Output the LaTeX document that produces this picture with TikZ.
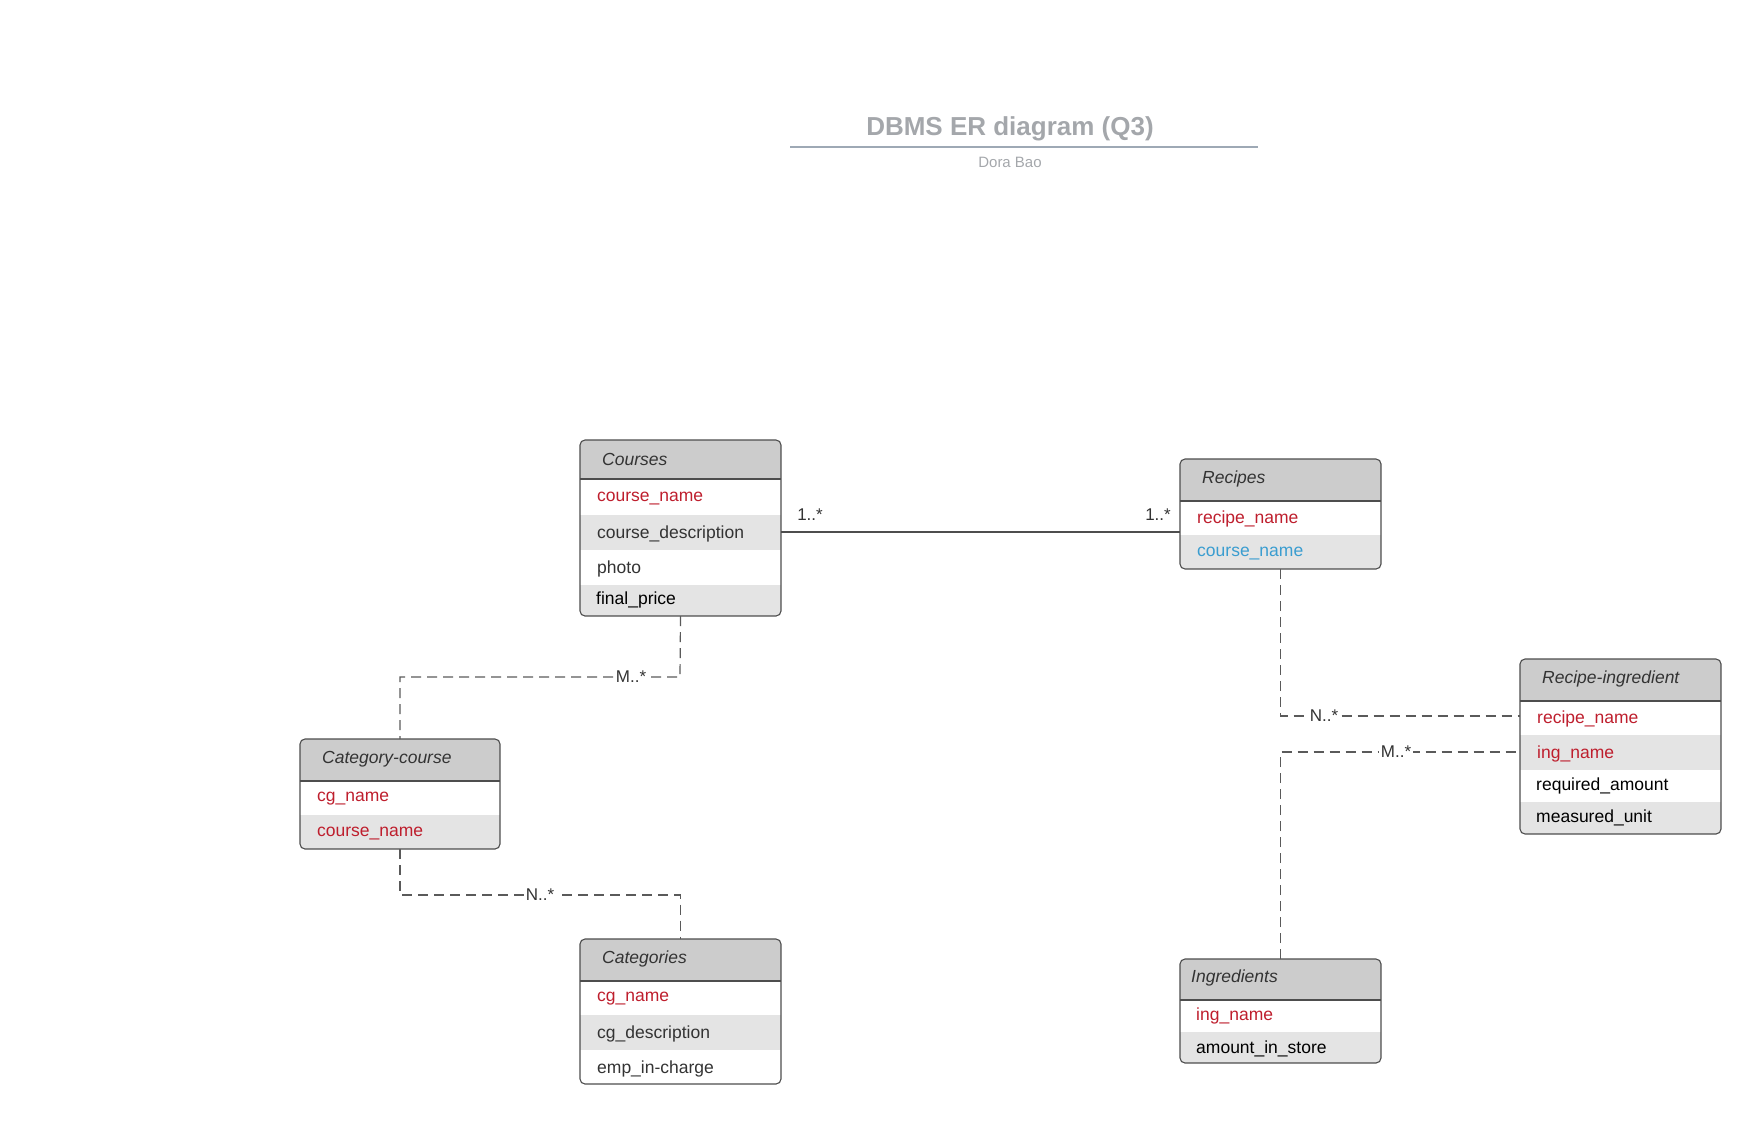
\documentclass[tikz,border=0pt]{standalone}
\usepackage{fontspec}
\setmainfont{Liberation Sans}
\definecolor{hdrfill}{HTML}{CCCCCC}
\definecolor{rowfill}{HTML}{E4E4E4}
\definecolor{bordercol}{HTML}{4D4D4D}
\definecolor{txtdark}{HTML}{333333}
\definecolor{keyred}{HTML}{BE1E2D}
\definecolor{fkblue}{HTML}{3A9DD0}
\definecolor{titlegray}{HTML}{A4A7AB}
\definecolor{titleline}{HTML}{9EA9B5}
\definecolor{linkgray}{HTML}{5A5A5A}
\tikzset{
  ent/.style={draw=bordercol, line width=1.1pt, rounded corners=5pt, anchor=north west, inner sep=0pt, outer sep=0pt},
  sepline/.style={draw=bordercol, line width=1.1pt},
  hdr/.style={font=\itshape\fontsize{17.5}{20}\selectfont, text=txtdark, anchor=west, inner sep=0pt},
  fld/.style={font=\fontsize{17.5}{20}\selectfont, text=txtdark, anchor=west, inner sep=0pt, yshift=-2pt},
  fldkey/.style={fld, text=keyred},
  fldfk/.style={fld, text=fkblue},
  fldblk/.style={fld, text=black},
  rel/.style={draw=linkgray, line width=1.2pt, dash pattern=on 10pt off 6pt},
  relsolid/.style={draw=bordercol, line width=1.1pt},
  card/.style={font=\fontsize{17}{20}\selectfont, text=txtdark, fill=white, inner sep=1.5pt},
  cardplain/.style={font=\fontsize{17}{20}\selectfont, text=txtdark, inner sep=1pt},
}
\begin{document}
\begin{tikzpicture}[x=1pt, y=-1pt]
\useasboundingbox (0,0) rectangle (1760,1125);

% Title
\node[font=\bfseries\fontsize{26}{30}\selectfont, text=titlegray] (title) at (1010,129) {DBMS ER diagram (Q3)};
\draw[titleline, line width=1.6pt] (790,147) -- (1258,147);
\node[font=\fontsize{15}{18}\selectfont, text=titlegray] (author) at (1010,162) {Dora Bao};

% ---------- Courses ----------
\begin{scope}
\clip[rounded corners=5pt] (580,440) rectangle (781,616);
\fill[hdrfill] (580,440) rectangle (781,479);
\fill[rowfill] (580,515) rectangle (781,550);
\fill[rowfill] (580,585) rectangle (781,616);
\end{scope}
\node[ent, minimum width=201pt, minimum height=176pt] (courses) at (580,440) {};
\draw[sepline] (580,479) -- (781,479);
\node[hdr] (coursesH) at (602,459) {Courses};
\node[fldkey] (c1) at (597,497) {course\_name};
\node[fld] (c2) at (597,532) {course\_description};
\node[fld] (c3) at (597,567) {photo};
\node[fldblk] (c4) at (596,598) {final\_price};

% ---------- Recipes ----------
\begin{scope}
\clip[rounded corners=5pt] (1180,459) rectangle (1381,569);
\fill[hdrfill] (1180,459) rectangle (1381,501);
\fill[rowfill] (1180,535) rectangle (1381,569);
\end{scope}
\node[ent, minimum width=201pt, minimum height=110pt] (recipes) at (1180,459) {};
\draw[sepline] (1180,501) -- (1381,501);
\node[hdr] (recipesH) at (1202,479) {Recipes};
\node[fldkey] (r1) at (1197,517) {recipe\_name};
\node[fldfk] (r2) at (1197,552) {course\_name};

% ---------- Recipe-ingredient ----------
\begin{scope}
\clip[rounded corners=5pt] (1520,659) rectangle (1721,834);
\fill[hdrfill] (1520,659) rectangle (1721,701);
\fill[rowfill] (1520,735) rectangle (1721,770);
\fill[rowfill] (1520,802) rectangle (1721,834);
\end{scope}
\node[ent, minimum width=201pt, minimum height=175pt] (ringr) at (1520,659) {};
\draw[sepline] (1520,701) -- (1721,701);
\node[hdr] (ringrH) at (1542,679) {Recipe-ingredient};
\node[fldkey] (ri1) at (1537,717) {recipe\_name};
\node[fldkey] (ri2) at (1537,752) {ing\_name};
\node[fldblk] (ri3) at (1536,784) {required\_amount};
\node[fldblk] (ri4) at (1536,816) {measured\_unit};

% ---------- Category-course ----------
\begin{scope}
\clip[rounded corners=5pt] (300,739) rectangle (500,849);
\fill[hdrfill] (300,739) rectangle (500,781);
\fill[rowfill] (300,815) rectangle (500,849);
\end{scope}
\node[ent, minimum width=200pt, minimum height=110pt] (catcourse) at (300,739) {};
\draw[sepline] (300,781) -- (500,781);
\node[hdr] (catcourseH) at (322,759) {Category-course};
\node[fldkey] (cc1) at (317,797) {cg\_name};
\node[fldkey] (cc2) at (317,832) {course\_name};

% ---------- Categories ----------
\begin{scope}
\clip[rounded corners=5pt] (580,939) rectangle (781,1084);
\fill[hdrfill] (580,939) rectangle (781,981);
\fill[rowfill] (580,1015) rectangle (781,1050);
\end{scope}
\node[ent, minimum width=201pt, minimum height=145pt] (categories) at (580,939) {};
\draw[sepline] (580,981) -- (781,981);
\node[hdr] (categoriesH) at (602,959) {Categories};
\node[fldkey] (g1) at (597,997) {cg\_name};
\node[fld] (g2) at (597,1032) {cg\_description};
\node[fld] (g3) at (597,1067) {emp\_in-charge};

% ---------- Ingredients ----------
\begin{scope}
\clip[rounded corners=5pt] (1180,959) rectangle (1381,1063);
\fill[hdrfill] (1180,959) rectangle (1381,1000);
\fill[rowfill] (1180,1032) rectangle (1381,1063);
\end{scope}
\node[ent, minimum width=201pt, minimum height=104pt] (ingr) at (1180,959) {};
\draw[sepline] (1180,1000) -- (1381,1000);
\node[hdr] (ingrH) at (1191,978) {Ingredients};
\node[fldkey] (i1) at (1196,1014) {ing\_name};
\node[fldblk] (i2) at (1196,1047) {amount\_in\_store};

% ---------- Connectors ----------
\coordinate (m1) at (700,532);
\draw[relsolid] (courses.east |- m1) -- (recipes.west |- m1);
\node[cardplain] (l1) at (810,515) {1..*};
\node[cardplain] (l2) at (1158,515) {1..*};

\coordinate (k1) at (680,677);
\draw[rel] (courses.south) -- (k1) -| (catcourse.north);
\node[card] (l3) at (631,677) {M..*};

\coordinate (k2) at (400,895);
\draw[rel] (catcourse.south) -- (k2) -| (categories.north);
\node[card] (l4) at (540,895) {N..*};

\coordinate (m2) at (1500,716);
\draw[rel] (recipes.south) |- (ringr.west |- m2);
\node[card] (l5) at (1324,716) {N..*};

\coordinate (m3) at (1500,752);
\draw[rel] (ingr.north) |- (ringr.west |- m3);
\node[card] (l6) at (1396,752) {M..*};
\end{tikzpicture}
\end{document}
